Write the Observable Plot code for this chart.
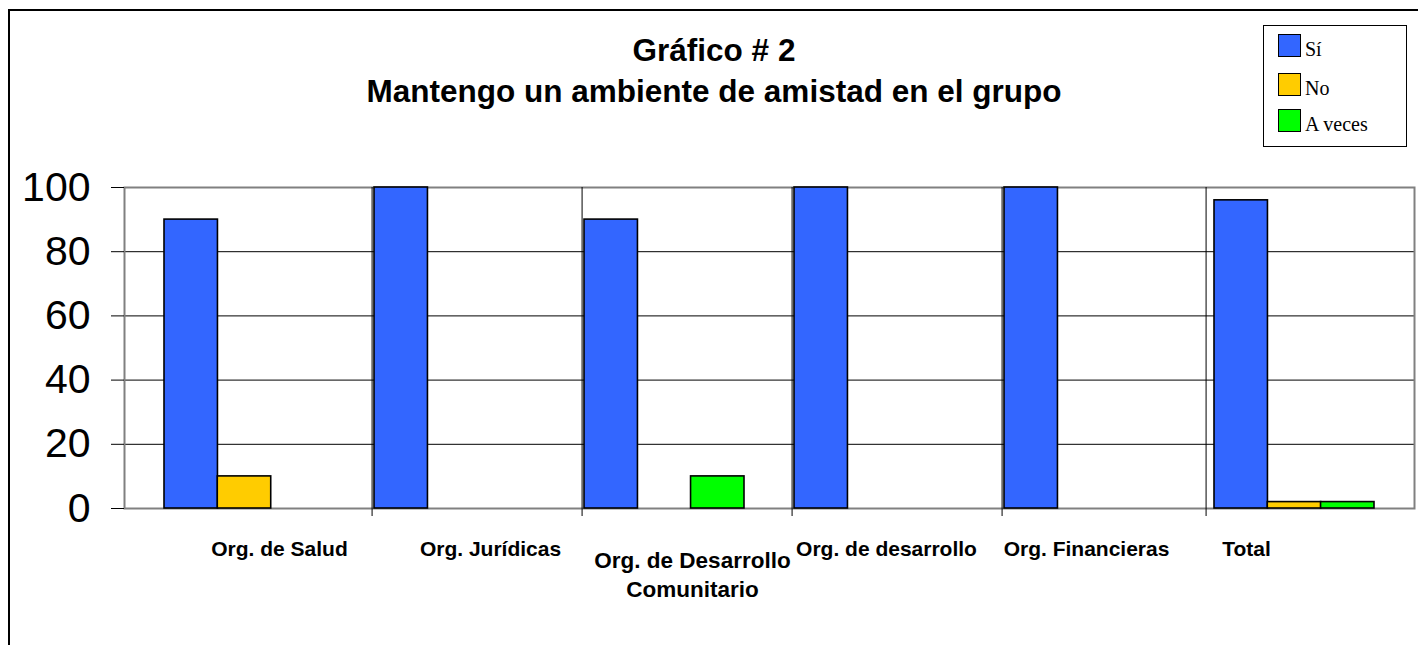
<!DOCTYPE html>
<html>
<head>
<meta charset="utf-8">
<script src="https://cdn.jsdelivr.net/npm/d3@7"></script>
<script src="https://cdn.jsdelivr.net/npm/@observablehq/plot@0.6"></script>
<style>
  html, body { margin: 0; padding: 0; background: white; }
  #wrap { position: relative; width: 1418px; height: 645px; overflow: hidden; background: white; font-family: "Liberation Sans", Arial, sans-serif; }
  #header { position: relative; height: 150px; }
  #title { position: absolute; left: 0; top: 30px; width: 1428px; text-align: center; font-weight: bold; font-size: 31.5px; line-height: 41px; color: black; }
  #legend { position: absolute; left: 1263px; top: 25px; width: 144px; height: 122px; box-sizing: border-box; border: 1.5px solid black; background: white; }
  .sw { position: absolute; left: 14px; width: 23px; height: 23px; box-sizing: border-box; border: 1.5px solid black; }
  .lt { position: absolute; left: 41px; font-family: "Liberation Serif", "Times New Roman", serif; font-size: 20px; line-height: 23px; color: black; white-space: nowrap; }
  #border { position: absolute; left: 8px; top: 9px; width: 3000px; height: 3000px; border: 2px solid black; pointer-events: none; z-index: 10; }
  #chart svg { display: block; background: transparent; }
</style>
</head>
<body>
<div id="wrap">
  <div id="header">
    <div id="title"></div>
    <div id="legend"></div>
  </div>
  <div id="chart"></div>
  <div id="border"></div>
</div>
<script>
const titleLines = ["Gráfico # 2", "Mantengo un ambiente de amistad en el grupo"];
const categories = ["Org. de Salud", "Org. Jurídicas", "Org. de Desarrollo\nComunitario", "Org. de desarrollo", "Org. Financieras", "Total"];
const series = ["Sí", "No", "A veces"];
const si = [90, 100, 90, 100, 100, 96];
const no = [10, 0, 0, 0, 0, 2];
const aVeces = [0, 0, 10, 0, 0, 2];
const yTicks = [0, 20, 40, 60, 80, 100];
const gridValues = [20, 40, 60, 80];
const colors = ["#3366FF", "#FFCC00", "#00FF00"];

const seriesValues = [si, no, aVeces];
const rows = categories.flatMap((c, i) => series.map((s, k) => ({category: c, series: s, value: seriesValues[k][i]})));

// title
document.getElementById("title").innerHTML = titleLines.join("<br>");

// legend
const legend = document.getElementById("legend");
const legendTops = [8, 47, 83];
series.forEach((s, k) => {
  const sw = document.createElement("div");
  sw.className = "sw";
  sw.style.top = legendTops[k] + "px";
  sw.style.background = colors[k];
  legend.appendChild(sw);
  const t = document.createElement("div");
  t.className = "lt";
  t.style.top = (legendTops[k] + 4) + "px";
  t.textContent = s;
  legend.appendChild(t);
});

// layout
const W = 1418, H = 495;
const mL = 124, mR = 4, mT = 37, mB = 137;
const pIn = 0.24, pOut = 0.187;
const step = (W - mL - mR) / (categories.length - pIn + 2 * pOut);
const bw = step * (1 - pIn);
const barW = bw / 3;

const labelDx = [35, 36, 28, 12, 2, -48];
const labelDy = [27.4, 27.4, 39.4, 27.4, 27.4, 27.4];
const labelSize = [21, 21, 22.5, 21, 21, 21];
const labelLH = [1.38, 1.38, 1.289, 1.38, 1.38, 1.38];

const chart = Plot.plot({
  width: W,
  height: H,
  marginLeft: mL,
  marginRight: mR,
  marginTop: mT,
  marginBottom: mB,
  style: {fontFamily: "'Liberation Sans', Arial, sans-serif", background: "transparent", color: "black"},
  x: {type: "band", domain: categories, paddingInner: pIn, paddingOuter: pOut, axis: null},
  y: {domain: [0, 100], axis: null},
  marks: [
    Plot.ruleY(gridValues, {stroke: "black", strokeWidth: 1}),
    Plot.frame({stroke: "#808080", strokeWidth: 2}),
    Plot.ruleX(categories.slice(1, 5), {x: d => d, y1: () => 100, y2: () => 0, dx: -bw / 2 - 2.5, insetBottom: -8, stroke: "black", strokeWidth: 1}),
    Plot.ruleX(categories.slice(5), {x: d => d, y1: () => 100, y2: () => 0, dx: -bw / 2 - 8.5, insetBottom: -8, stroke: "black", strokeWidth: 1}),
    ...series.map((s, k) => Plot.barY(rows.filter(d => d.series === s && d.value > 0), {
      x: "category", y: "value", fill: colors[k], stroke: "black", strokeWidth: 1.6,
      insetLeft: k * barW, insetRight: (2 - k) * barW
    })),
    Plot.axisY({ticks: yTicks, tickSize: 13, tickPadding: 21, fontSize: 41, label: null, stroke: "black", strokeWidth: 1}),
    ...categories.map((c, i) => Plot.text([c], {
      x: d => d, y: () => 0, dx: labelDx[i], dy: labelDy[i], lineAnchor: "top",
      fontSize: labelSize[i], fontWeight: "bold", lineHeight: labelLH[i], fill: "black"
    }))
  ]
});
document.getElementById("chart").appendChild(chart);
</script>
</body>
</html>
